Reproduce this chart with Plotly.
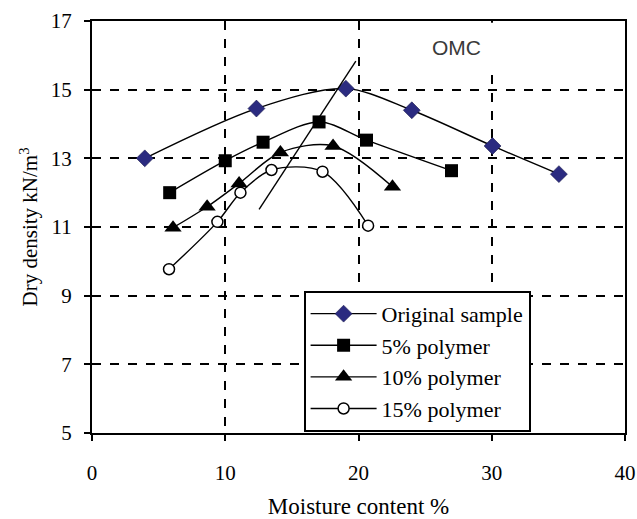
import plotly.graph_objects as go

# Data
orig_x = [3.96, 12.34, 19.05, 24.0, 30.06, 35.04]
orig_y = [13.0, 14.45, 15.03, 14.4, 13.36, 12.54]

p5_x = [5.83, 10.0, 12.84, 17.04, 20.6, 26.98]
p5_y = [12.0, 12.93, 13.47, 14.06, 13.53, 12.64]

p10_x = [6.08, 8.64, 11.04, 14.14, 18.09, 22.55]
p10_y = [10.98, 11.59, 12.27, 13.17, 13.36, 12.17]

p15_x = [5.78, 9.41, 11.14, 13.47, 17.3, 20.72]
p15_y = [9.77, 11.15, 12.0, 12.66, 12.61, 11.04]

omc_x = [12.54, 19.8]
omc_y = [11.51, 15.83]

x_ticks = [0, 10, 20, 30, 40]
y_ticks = [5, 7, 9, 11, 13, 15, 17]

serif = "Liberation Serif"

fig = go.Figure()

line_style = dict(color="black", width=1.4, shape="spline", smoothing=0.9)

fig.add_trace(go.Scatter(
    x=orig_x, y=orig_y, mode="lines+markers", name="Original sample",
    line=line_style,
    marker=dict(symbol="diamond", size=13, color="#2B2B80",
                line=dict(color="#15154a", width=0.6)),
))
fig.add_trace(go.Scatter(
    x=p5_x, y=p5_y, mode="lines+markers", name="5% polymer",
    line=line_style,
    marker=dict(symbol="square", size=13, color="black"),
))
fig.add_trace(go.Scatter(
    x=p10_x, y=p10_y, mode="lines+markers", name="10% polymer",
    line=line_style,
    marker=dict(symbol="triangle-up", size=15, color="black"),
))
fig.add_trace(go.Scatter(
    x=p15_x, y=p15_y, mode="lines+markers", name="15% polymer",
    line=line_style,
    marker=dict(symbol="circle", size=11, color="white",
                line=dict(color="black", width=1.5)),
))
fig.add_trace(go.Scatter(
    x=omc_x, y=omc_y, mode="lines", showlegend=False,
    line=dict(color="black", width=1.4),
))

fig.add_annotation(
    x=27.35, y=16.24, xref="x", yref="y", text="OMC", showarrow=False,
    font=dict(family="Liberation Sans", size=21, color="#3a3a3a"),
)
# white patch hiding the top part of the x=30 grid line (as in the reference)
fig.add_shape(type="rect", xref="x", yref="y", x0=29.3, x1=30.7, y0=15.55, y1=16.95,
              fillcolor="white", line=dict(width=0), layer="between")

axis_common = dict(
    showline=True, linecolor="black", linewidth=2, mirror=True,
    showgrid=True, gridcolor="black", gridwidth=2, griddash="dash",
    zeroline=False, ticks="outside", ticklen=6, tickwidth=2, tickcolor="black",
    tickfont=dict(family=serif, size=21, color="black"),
    automargin=False,
)

fig.update_xaxes(
    range=[0, 40], tickvals=x_ticks, ticklabelstandoff=14,
    title=dict(text="Moisture content %", font=dict(family=serif, size=23, color="black"),
               standoff=14),
    **axis_common,
)
fig.update_yaxes(
    range=[5, 17], tickvals=y_ticks, ticklabelstandoff=8,
    title=dict(text="Dry density kN/m<sup>3</sup>",
               font=dict(family=serif, size=21, color="black"), standoff=7),
    **axis_common,
)

fig.update_layout(
    width=637, height=519,
    margin=dict(l=92, r=12, t=21, b=86),
    paper_bgcolor="white", plot_bgcolor="white",
    showlegend=True,
    legend=dict(
        x=0.397, y=0.345, xanchor="left", yanchor="top",
        bgcolor="white", bordercolor="black", borderwidth=2,
        font=dict(family=serif, size=22, color="black"),
        tracegroupgap=0, itemwidth=66,
    ),
)

fig.write_html(
    "out.html",
    config={"displayModeBar": False},
    post_script="document.body.style.margin='0';document.body.style.overflow='hidden';",
)
